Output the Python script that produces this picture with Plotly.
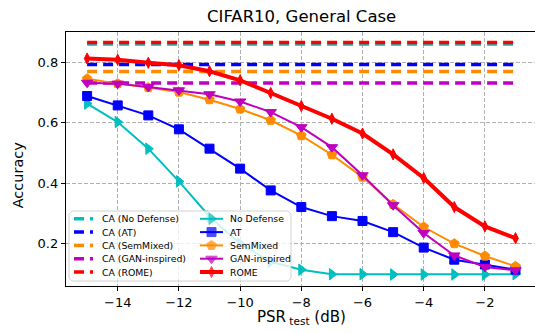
import plotly.graph_objects as go

# PSR_test sweep (dB)
psr = [-15, -14, -13, -12, -11, -10, -9, -8, -7, -6, -5, -4, -3, -2, -1]

# Clean accuracy (CA) of each model
ca_no_defense = 0.860
ca_at = 0.792
ca_semmixed = 0.769
ca_gan = 0.731
ca_rome = 0.865

# Accuracy under attack
acc_no_defense = [0.663, 0.602, 0.514, 0.406, 0.290, 0.200, 0.140, 0.114, 0.099, 0.099, 0.098, 0.098, 0.098, 0.098, 0.099]
acc_at = [0.688, 0.657, 0.624, 0.578, 0.514, 0.448, 0.376, 0.321, 0.291, 0.275, 0.238, 0.187, 0.147, 0.131, 0.114]
acc_semmixed = [0.745, 0.729, 0.716, 0.701, 0.676, 0.645, 0.608, 0.557, 0.494, 0.420, 0.330, 0.255, 0.200, 0.159, 0.125]
acc_gan = [0.732, 0.729, 0.718, 0.707, 0.694, 0.670, 0.635, 0.585, 0.519, 0.426, 0.327, 0.235, 0.161, 0.123, 0.112]
acc_rome = [0.812, 0.808, 0.798, 0.790, 0.770, 0.740, 0.698, 0.655, 0.613, 0.564, 0.495, 0.417, 0.321, 0.257, 0.218]

x_ticks = [-14, -12, -10, -8, -6, -4, -2]
y_ticks = [0.2, 0.4, 0.6, 0.8]

C_CYAN, C_BLUE, C_ORANGE, C_MAG, C_RED = "#00bfbf", "#0000ff", "#ff8c00", "#bf00bf", "#ff0000"
FONT = "DejaVu Sans"
DASH = "10px,6px"

ca_series = [
    ("CA (No Defense)", ca_no_defense, C_CYAN),
    ("CA (AT)", ca_at, C_BLUE),
    ("CA (SemMixed)", ca_semmixed, C_ORANGE),
    ("CA (GAN-inspired)", ca_gan, C_MAG),
    ("CA (ROME)", ca_rome, C_RED),
]
acc_series = [
    ("No Defense", acc_no_defense, C_CYAN, "triangle-right", 10, 2),
    ("AT", acc_at, C_BLUE, "square", 9, 2),
    ("SemMixed", acc_semmixed, C_ORANGE, "pentagon", 10, 2),
    ("GAN-inspired", acc_gan, C_MAG, "triangle-down", 10, 2),
    ("ROME", acc_rome, C_RED, "diamond-tall", 8, 4),
]

fig = go.Figure()

for name, val, col in ca_series:
    fig.add_trace(go.Scatter(
        x=psr, y=[val] * len(psr), mode="lines", name=name, showlegend=False,
        line=dict(color=col, width=3.5, dash=DASH),
    ))

for name, vals, col, sym, size, lw in acc_series:
    fig.add_trace(go.Scatter(
        x=psr, y=vals, mode="lines+markers", name=name, showlegend=False,
        line=dict(color=col, width=lw),
        marker=dict(symbol=sym, size=size, color=col, line=dict(color=col, width=1)),
    ))

# Legend drawn on an overlay axis measured in pixels from the plot area's top-left
W, H = 469, 254
box_l, box_r, box_t, box_b, rad = 3, 225, 179, 249, 3
fig.add_trace(go.Scatter(
    x=[box_l + rad, box_r - rad, box_r, box_r, box_r - rad, box_l + rad, box_l, box_l, box_l + rad],
    y=[box_t, box_t, box_t + rad, box_b - rad, box_b, box_b, box_b - rad, box_t + rad, box_t],
    xaxis="x2", yaxis="y2", mode="lines", fill="toself",
    fillcolor="rgba(255,255,255,0.8)", line=dict(color="rgba(204,204,204,0.9)", width=1),
    hoverinfo="skip", showlegend=False,
))
row0, row_gap = 186.8, 13.3
annotations = []
for i, (name, val, col) in enumerate(ca_series):
    yy = row0 + i * row_gap
    fig.add_trace(go.Scatter(
        x=[8, 27], y=[yy, yy], xaxis="x2", yaxis="y2", mode="lines",
        line=dict(color=col, width=3.5, dash=DASH), hoverinfo="skip", showlegend=False,
    ))
    annotations.append(dict(x=34, y=yy, xref="x2", yref="y2", text=name, showarrow=False,
                            xanchor="left", yanchor="middle", font=dict(family=FONT, size=9.3, color="#000")))
for i, (name, vals, col, sym, size, lw) in enumerate(acc_series):
    yy = row0 + i * row_gap
    fig.add_trace(go.Scatter(
        x=[134, 145.5, 157], y=[yy, yy, yy], xaxis="x2", yaxis="y2", mode="lines+markers",
        line=dict(color=col, width=lw),
        marker=dict(symbol=sym, size=[0, size, 0], color=col, line=dict(color=col, width=1)),
        hoverinfo="skip", showlegend=False,
    ))
    annotations.append(dict(x=162, y=yy, xref="x2", yref="y2", text=name, showarrow=False,
                            xanchor="left", yanchor="middle", font=dict(family=FONT, size=9.3, color="#000")))

# Titles
annotations += [
    dict(x=0.502, y=(253.7 + 16) / H, xref="paper", yref="paper", text="CIFAR10, General Case",
         showarrow=False, xanchor="center", yanchor="middle", font=dict(family=FONT, size=16.5, color="#000")),
    dict(x=0.502, y=(253.7 - 285) / H, xref="paper", yref="paper", text="PSR<sub> test</sub> (dB)",
         showarrow=False, xanchor="center", yanchor="middle", font=dict(family=FONT, size=15, color="#000")),
    dict(x=-48 / W, y=(253.7 - 143) / H, xref="paper", yref="paper", text="Accuracy", textangle=-90,
         showarrow=False, xanchor="center", yanchor="middle", font=dict(family=FONT, size=14.5, color="#000")),
]

grid = dict(showgrid=True, gridcolor="#b0b0b0", gridwidth=1, griddash="4px,2px")
fig.update_layout(
    width=535, height=333,
    margin=dict(l=66, r=0, t=32, b=47, pad=0),
    plot_bgcolor="white", paper_bgcolor="white",
    font=dict(family=FONT, size=13, color="#000"),
    xaxis=dict(range=[-15.69, -0.363], tickvals=x_ticks, ticktext=[f"\u2212{abs(v)}" for v in x_ticks],
               ticks="outside", ticklen=4, tickcolor="#000", tickwidth=1,
               showline=True, linecolor="#000", linewidth=1.3, mirror=True, zeroline=False, **grid),
    yaxis=dict(range=[0.060, 0.8997], tickvals=y_ticks, ticktext=[f"{v:.1f}" for v in y_ticks],
               ticks="outside", ticklen=4, tickcolor="#000", tickwidth=1,
               showline=True, linecolor="#000", linewidth=1.3, mirror=False, zeroline=False, **grid),
    xaxis2=dict(overlaying="x", range=[0, W], visible=False, fixedrange=True),
    yaxis2=dict(overlaying="y", range=[H, 0], visible=False, fixedrange=True),
    annotations=annotations,
    showlegend=False,
)

fig.write_html("out.html")
